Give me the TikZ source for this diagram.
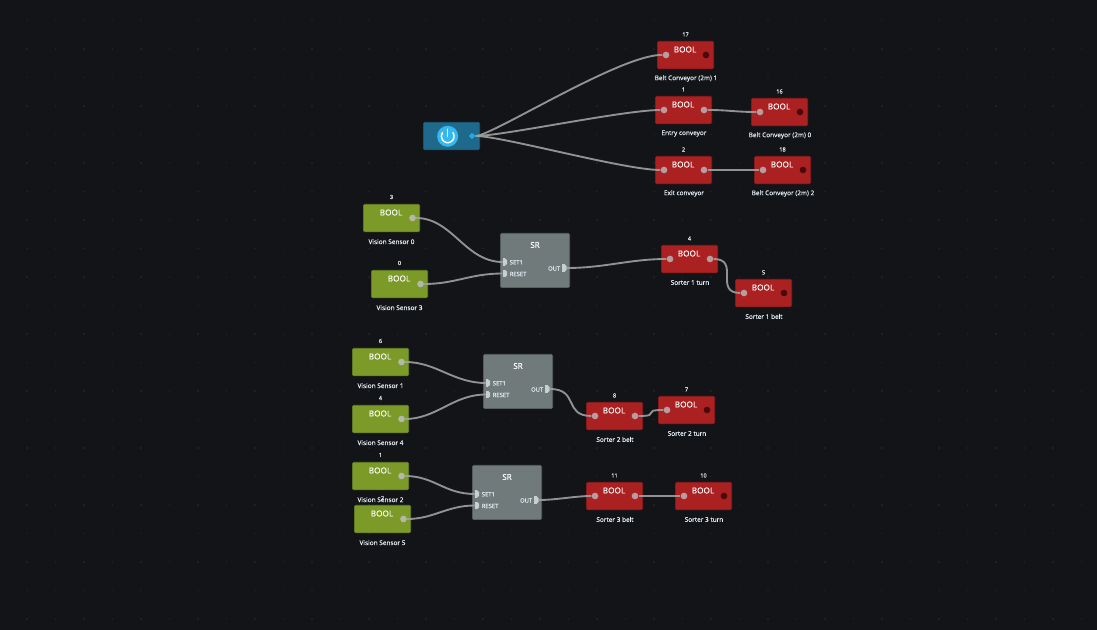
\documentclass[tikz,border=0pt]{standalone}
\usepackage{fontspec}
\setmainfont{Open Sans}
\newfontfamily\ttlfont[FakeBold=0.5]{Open Sans}
\newfontfamily\lblfont[FakeBold=0.25]{Open Sans}
\usetikzlibrary{calc}
\definecolor{bgc}{HTML}{121417}
\definecolor{dotc}{HTML}{1E2022}
\definecolor{redf}{HTML}{AB2020}
\definecolor{redd}{HTML}{8C1C1C}
\definecolor{grnf}{HTML}{7C9A28}
\definecolor{grnd}{HTML}{667F22}
\definecolor{srf}{HTML}{707A7A}
\definecolor{srd}{HTML}{566060}
\definecolor{powf}{HTML}{1F6A8C}
\definecolor{lblc}{HTML}{E6EEF5}
\definecolor{wirec}{HTML}{A0A0A0}
\definecolor{portr}{HTML}{B89C9F}
\definecolor{portd}{HTML}{4A0A0C}
\definecolor{portg}{HTML}{B4B8A8}
\definecolor{portb}{HTML}{27A5E0}
\definecolor{srp}{HTML}{C9CECE}
\definecolor{btnc}{HTML}{35B8EE}
\tikzset{
  x=0.75pt,y=-0.75pt,
  boxbase/.style={rectangle,rounded corners=1pt,line width=0.5pt,inner sep=0,anchor=north west},
  redbox/.style={boxbase,fill=redf,draw=redd,minimum width=42.3pt,minimum height=20.6pt},
  grnbox/.style={boxbase,fill=grnf,draw=grnd,minimum width=42.3pt,minimum height=20.6pt},
  srbox/.style={boxbase,fill=srf,draw=srd,minimum width=52pt,minimum height=40.6pt},
  powbox/.style={boxbase,fill=powf,draw=powf!85!black,minimum width=42.3pt,minimum height=20.6pt},
  port/.style={circle,inner sep=0,minimum size=5pt},
  redon/.style={port,fill=portr},
  redoff/.style={port,fill=portd},
  grnport/.style={port,fill=portg},
  powport/.style={port,fill=portb,draw=powf!70!black,line width=0.3pt},
  srport/.style={rectangle,rounded corners=1.1pt,inner sep=0,minimum width=3pt,minimum height=5pt,fill=srp},
  ttl/.style={inner sep=0,text=white,font=\fontsize{6.2pt}{7pt}\ttlfont},
  srttl/.style={inner sep=0,text=white,font=\fontsize{6pt}{7pt}\ttlfont},
  lbl/.style={inner sep=0,text=lblc,font=\fontsize{4.85pt}{6pt}\lblfont},
  idx/.style={inner sep=0,text=lblc,font=\fontsize{4.2pt}{5pt}\lblfont},
  srlbl/.style={inner sep=0,text=lblc,font=\fontsize{4.4pt}{5pt}\lblfont},
  wire/.style={draw=wirec,line width=1.4pt,opacity=0.9},
}
\newcommand{\redn}[6]{% name,x,y,index,label,out style
  \node[redbox] (#1) at (#2,#3) {};
  \node[ttl] (#1-t) at ($(#2,#3)+(28,8.5)$) {BOOL};
  \node[idx] (#1-i) at ($(#2,#3)+(28.5,-6.5)$) {#4};
  \node[lbl] (#1-l) at ($(#2,#3)+(29,37.5)$) {#5};
  \node[redon] (#1-in) at ($(#2,#3)+(9,14)$) {};
  \node[#6] (#1-out) at ($(#2,#3)+(49,14)$) {};
}
\newcommand{\grnn}[5]{% name,x,y,index,label
  \node[grnbox] (#1) at (#2,#3) {};
  \node[ttl] (#1-t) at ($(#2,#3)+(28,8.5)$) {BOOL};
  \node[idx] (#1-i) at ($(#2,#3)+(28.5,-7)$) {#4};
  \node[lbl] (#1-l) at ($(#2,#3)+(28.5,37.7)$) {#5};
  \node[grnport] (#1-out) at ($(#2,#3)+(49.5,14)$) {};
}
\newcommand{\dport}[3]{% name,x,y : D-shaped pin, flat on the left
  \node[srport] (#1) at (#2,#3) {};
  \fill[srp] ($(#1.north west)$) rectangle ($(#1.south)$);
}
\newcommand{\srn}[3]{% name,x,y
  \node[srbox] (#1) at (#2,#3) {};
  \node[srttl] (#1-t) at ($(#2,#3)+(35,12)$) {SR};
  \dport{#1-set}{#2+5}{#3+29}
  \dport{#1-rst}{#2+5}{#3+40.5}
  \dport{#1-out}{#2+64.5}{#3+35}
  \node[srlbl,anchor=west] (#1-ls) at ($(#2,#3)+(9.5,29.3)$) {SET1};
  \node[srlbl,anchor=west] (#1-lr) at ($(#2,#3)+(9.5,41)$) {RESET};
  \node[srlbl,anchor=east] (#1-lo) at ($(#2,#3)+(60.5,35.5)$) {OUT};
}
\newcommand{\wir}[3]{\draw[wire] (#1) .. controls +(#3,0) and +(-#3,0) .. (#2);}
\begin{document}
\begin{tikzpicture}
\useasboundingbox (0,0) rectangle (1097,630);
\fill[bgc] (0,0) rectangle (1097,630);
\foreach \i in {0,...,38}{\foreach \j in {0,...,21}{
  \fill[dotc] (27+28.5*\i-0.7,20.7+28.5*\j-0.7) rectangle ++(1.4,1.4);}}

% power
\node[powbox] (pw) at (423,122) {};
\node[circle,fill=btnc,inner sep=0,minimum size=15.8pt] (pw-btn) at (447.7,136.3) {};
\draw[white,line width=1.1pt,line cap=round] (pw-btn.center) ++(5.3,-3.6) arc[x radius=6.4,y radius=6.4,start angle=326,end angle=574];
\draw[white,line width=1.1pt,line cap=round] ($(pw-btn.center)+(0,-7)$) -- (pw-btn.center);
\node[powport] (pw-out) at (472,136) {};

% red nodes
\redn{r17}{657}{41}{17}{Belt Conveyor (2m) 1}{redoff}
\redn{r1}{655}{96}{1}{Entry conveyor}{redon}
\redn{r16}{751}{98}{16}{Belt Conveyor (2m) 0}{redoff}
\redn{r2}{655}{156}{2}{Exit conveyor}{redon}
\redn{r18}{754}{156}{18}{Belt Conveyor (2m) 2}{redoff}
\redn{r4}{661}{245}{4}{Sorter 1 turn}{redon}
\redn{r5}{735}{279}{5}{Sorter 1 belt}{redoff}
\redn{r8}{586}{402}{8}{Sorter 2 belt}{redon}
\redn{r7}{658}{396}{7}{Sorter 2 turn}{redoff}
\redn{r11}{586}{482}{11}{Sorter 3 belt}{redon}
\redn{r10}{675}{482}{10}{Sorter 3 turn}{redoff}

% green nodes
\grnn{g3}{363}{204}{3}{Vision Sensor 0}
\grnn{g0}{371}{270}{0}{Vision Sensor 3}
\grnn{g6}{352}{348}{6}{Vision Sensor 1}
\grnn{g4}{352}{405}{4}{Vision Sensor 4}
\grnn{g1}{352}{462}{1}{Vision Sensor 2}
\grnn{g5}{354}{505}{2}{Vision Sensor 5}

% SR blocks
\srn{s1}{500}{233}
\srn{s2}{483}{354}
\srn{s3}{472}{465}

% connectors
\draw[wire] (pw-out) .. controls +(20,0) and +(-45,-1) .. (r17-in);
\draw[wire] (pw-out) .. controls +(30,0) and +(-40,0) .. (r1-in);
\draw[wire] (pw-out) .. controls +(30,0) and +(-40,0) .. (r2-in);
\wir{r1-out}{r16-in}{25}
\wir{r2-out}{r18-in}{25}
\wir{g3-out}{s1-set}{40}
\wir{g0-out}{s1-rst}{35}
\wir{s1-out}{r4-in}{40}
\wir{r4-out}{r5-in}{31}
\wir{g6-out}{s2-set}{35}
\wir{g4-out}{s2-rst}{35}
\wir{s2-out}{r8-in}{32}
\wir{r8-out}{r7-in}{28}
\wir{g1-out}{s3-set}{33}
\wir{g5-out}{s3-rst}{30}
\wir{s3-out}{r11-in}{20}
\wir{r11-out}{r10-in}{20}
\end{tikzpicture}
\end{document}
